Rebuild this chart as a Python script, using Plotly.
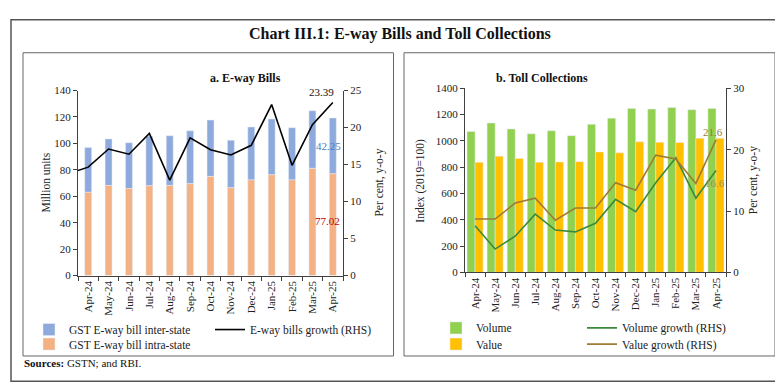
import plotly.graph_objects as go

# ---------------- data ----------------
months = ["Apr-24", "May-24", "Jun-24", "Jul-24", "Aug-24", "Sep-24", "Oct-24",
          "Nov-24", "Dec-24", "Jan-25", "Feb-25", "Mar-25", "Apr-25"]
# line in panel a enters from the left edge (previous month)
growth_months = ["Mar-24"] + months

eway_intra = [63.0, 68.2, 65.8, 68.0, 68.2, 69.5, 75.0, 66.5, 72.4, 76.2, 72.4, 81.1, 77.02]
eway_inter = [34.0, 35.2, 34.7, 37.5, 37.6, 40.0, 42.7, 35.9, 40.0, 42.2, 39.5, 43.6, 42.25]
eway_growth = [13.75, 14.65, 17.1, 16.4, 19.2, 12.9, 18.6, 17.0, 16.3, 17.6, 23.1, 14.9, 20.4, 23.39]

toll_volume = [1072, 1136, 1091, 1054, 1077, 1040, 1126, 1173, 1247, 1242, 1254, 1237, 1247]
toll_value = [837, 884, 867, 837, 840, 842, 916, 909, 993, 990, 988, 1020, 1020]
volume_growth = [7.6, 3.8, 5.9, 9.5, 6.9, 6.6, 8.0, 11.9, 9.9, 14.6, 18.7, 12.1, 16.6]
value_growth = [8.7, 8.7, 11.3, 12.1, 8.5, 10.5, 10.5, 14.6, 13.4, 19.1, 18.5, 14.5, 21.6]

# ---------------- style ----------------
W, H = 783, 385
FONT = "Liberation Serif"
C_INTER = "#8eaadc"
C_INTRA = "#f4b183"
C_VOL = "#92d050"
C_VAL = "#ffc000"
C_VOLG = "#3a8a3a"
C_VALG = "#9e7b35"
AX = "#404040"


def px(x):
    return x / W


def py(y):
    return 1 - y / H


fig = go.Figure()

# Panel a bars (stacked via base)
fig.add_trace(go.Bar(x=months, y=eway_inter, base=eway_intra, name="GST E-way bill inter-state",
                     marker_color=C_INTER, width=0.34, offsetgroup="a",
                     xaxis="x", yaxis="y", legend="legend"))
fig.add_trace(go.Bar(x=months, y=eway_intra, name="GST E-way bill intra-state",
                     marker_color=C_INTRA, width=0.34, offsetgroup="a",
                     xaxis="x", yaxis="y", legend="legend2"))
fig.add_trace(go.Scatter(x=growth_months, y=eway_growth, name="E-way bills growth (RHS)",
                         mode="lines", line=dict(color="#000000", width=1.6),
                         xaxis="x", yaxis="y2", legend="legend3"))

# Panel b bars
fig.add_trace(go.Bar(x=months, y=toll_volume, name="Volume", marker_color=C_VOL,
                     width=0.4, offset=-0.4, xaxis="x3", yaxis="y3", legend="legend4"))
fig.add_trace(go.Bar(x=months, y=toll_value, name="Value", marker_color=C_VAL,
                     width=0.4, offset=0.0, xaxis="x3", yaxis="y3", legend="legend5"))
fig.add_trace(go.Scatter(x=months, y=volume_growth, name="Volume growth (RHS)", mode="lines",
                         line=dict(color=C_VOLG, width=1.6), xaxis="x3", yaxis="y4",
                         legend="legend6"))
fig.add_trace(go.Scatter(x=months, y=value_growth, name="Value growth (RHS)", mode="lines",
                         line=dict(color=C_VALG, width=1.6), xaxis="x3", yaxis="y4",
                         legend="legend7"))

tickfont = dict(family=FONT, size=11, color="#222")

xa_common = dict(type="category", showline=True, linecolor=AX, linewidth=1,
                 ticks="outside", ticklen=4, tickcolor=AX, tickson="boundaries",
                 tickangle=-90, tickfont=tickfont, showgrid=False, zeroline=False,
                 fixedrange=True)
ya_common = dict(showline=True, linecolor=AX, linewidth=1, ticks="outside", ticklen=4,
                 tickcolor=AX, tickfont=tickfont, showgrid=False, zeroline=False)

ya_dom = [py(270), py(79)]
yb_dom = [py(266.7), py(76.7)]

fig.update_layout(
    width=W, height=H, margin=dict(l=0, r=0, t=0, b=0),
    paper_bgcolor="white", plot_bgcolor="white",
    barmode="group", showlegend=True,
    xaxis=dict(domain=[px(70), px(335)], anchor="y",
               categoryorder="array", categoryarray=growth_months,
               range=[0.5, 13.5], **xa_common),
    yaxis=dict(domain=ya_dom, anchor="x", range=[0, 140], dtick=20, **ya_common),
    yaxis2=dict(overlaying="y", side="right", anchor="x", range=[0, 25], dtick=5, **ya_common),
    xaxis3=dict(domain=[px(457), px(718)], anchor="y3",
                categoryorder="array", categoryarray=months, range=[-0.5, 12.5], **xa_common),
    yaxis3=dict(domain=yb_dom, anchor="x3", range=[0, 1400], dtick=200, **ya_common),
    yaxis4=dict(overlaying="y3", side="right", anchor="x3", range=[0, 30], dtick=10, **ya_common),
)

legfont = dict(family=FONT, size=11.5, color="#222")


def leg(xp, yp):
    return dict(x=px(xp), y=py(yp), xanchor="left", yanchor="middle",
                bgcolor="rgba(0,0,0,0)", font=legfont, itemwidth=30,
                orientation="v", tracegroupgap=0)


fig.update_layout(
    legend=leg(21, 325.7), legend2=leg(21, 340.7), legend3=leg(202, 325.7),
    legend4=leg(428, 324), legend5=leg(428, 340.7),
    legend6=leg(574, 324), legend7=leg(574, 340.7),
)

shapes = [
    dict(type="rect", xref="paper", yref="paper", x0=px(3), x1=px(779), y0=py(379), y1=py(6),
         line=dict(color="#555", width=1.5)),
    dict(type="rect", xref="paper", yref="paper", x0=px(15), x1=px(385.5), y0=py(353), y1=py(40),
         line=dict(color="#666", width=1)),
    dict(type="rect", xref="paper", yref="paper", x0=px(396), x1=px(767), y0=py(353), y1=py(40),
         line=dict(color="#666", width=1)),
]
fig.update_layout(shapes=shapes)

ann = []
ann.append(dict(text="<b>Chart III.1: E-way Bills and Toll Collections</b>", x=px(391.5), y=py(21),
                xref="paper", yref="paper", showarrow=False, xanchor="center", yanchor="middle",
                font=dict(family=FONT, size=16, color="#111")))
ann.append(dict(text="<b>a. E-way Bills</b>", x=px(200), y=py(57), xref="paper", yref="paper",
                showarrow=False, font=dict(family=FONT, size=12, color="#111")))
ann.append(dict(text="<b>b. Toll Collections</b>", x=px(582), y=py(57), xref="paper", yref="paper",
                showarrow=False, font=dict(family=FONT, size=12, color="#111")))
ann.append(dict(text="<b>Sources:</b> GSTN; and RBI.", x=px(14), y=py(369), xref="paper", yref="paper",
                showarrow=False, xanchor="left", font=dict(family=FONT, size=11, color="#111")))
# axis titles
for t, xx, yy in [("Million units", 30, 174), ("Per cent, y-o-y", 372, 174),
                  ("Index (2019=100)", 413, 172), ("Per cent, y-o-y", 754, 172)]:
    ann.append(dict(text=t, x=px(xx), y=py(yy), xref="paper", yref="paper", showarrow=False,
                    textangle=-90, font=dict(family=FONT, size=11.5, color="#222")))
# data labels
ann.append(dict(text=f"{eway_growth[-1]:.2f}", x=months[-1], y=eway_growth[-1], xref="x", yref="y2",
                showarrow=False, xshift=-11, yshift=10, font=dict(family=FONT, size=11, color="#111")))
ann.append(dict(text=f"{eway_inter[-1]:.2f}", x=months[-1], y=eway_intra[-1] + eway_inter[-1] / 2,
                xref="x", yref="y", showarrow=False, xshift=-4, yshift=0,
                font=dict(family=FONT, size=11, color="#4a7ebb")))
ann.append(dict(text=f"{eway_intra[-1]:.2f}", x=months[-1], y=eway_intra[-1] / 2,
                xref="x", yref="y", showarrow=False, xshift=-5, yshift=4,
                font=dict(family=FONT, size=11, color="#c00000")))
ann.append(dict(text=f"{value_growth[-1]:.1f}", x=months[-1], y=value_growth[-1], xref="x3", yref="y4",
                showarrow=False, xshift=-3, yshift=8, font=dict(family=FONT, size=11, color=C_VALG)))
ann.append(dict(text=f"{volume_growth[-1]:.1f}", x=months[-1], y=volume_growth[-1], xref="x3", yref="y4",
                showarrow=False, xshift=-1, yshift=-12, font=dict(family=FONT, size=11, color="#a38b5c")))
fig.update_layout(annotations=ann)

fig.write_html("out.html")
